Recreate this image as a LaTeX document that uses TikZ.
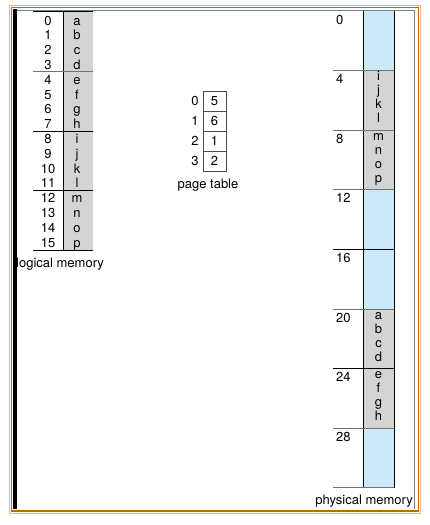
\documentclass[tikz,border=0pt]{standalone}
\usepackage{fontspec}
\setmainfont{TeX Gyre Heros}
\usetikzlibrary{positioning}
\definecolor{frameorange}{RGB}{204,102,0}
\definecolor{framelight}{RGB}{240,180,135}
\definecolor{pageblue}{RGB}{204,233,250}
\definecolor{pagegray}{RGB}{212,212,212}

\begin{document}
\begin{tikzpicture}
[
  x=1pt, y=-1pt,
  every node/.style={inner sep=0pt, font=\fontsize{13}{15}\selectfont, anchor=base},
  framelbl/.style={anchor=base west},
  darksep/.style={draw=black, line width=0.8pt},
  lightsep/.style={draw=black!55, line width=0.8pt}
]
\useasboundingbox (0,0) rectangle (430,525);

% outer frame
\draw[framelight, line width=1.2pt] (9.5,5.5) rectangle (420.5,513.5);
\draw[frameorange, line width=1.5pt] (11.5,7.5) rectangle (418.5,511);
\draw[black!50, line width=0.8pt] (14,10.5) -- (414,10.5) -- (414,509);
\fill[black] (13,9) rectangle (17,509);

% logical memory
\fill[pagegray] (63,11) rectangle (93,250);
\draw[darksep] (63,11) -- (63,250);
\draw[darksep] (33,11) -- (93,11);
\draw[lightsep] (33,71.5) -- (93,71.5);
\draw[darksep] (33,131) -- (93,131);
\draw[darksep] (33,190) -- (93,190);
\draw[darksep] (33,250) -- (93,250);
\foreach \l [count=\i from 0] in {a,...,p} {
  \node (ln\i) at (48,25+14.8*\i) {\i};
  \node (lc\i) at (77,25+14.8*\i) {\l};
}
\node[anchor=base west] (lmem) at (16,267) {logical memory};

% page table
\draw[black!70, line width=0.6pt] (203,91) rectangle (226,171);
\foreach \v [count=\r from 0] in {5,6,1,2} {
  \node (pn\r) at (195,105.5+20*\r) {\r};
  \node (pv\r) at (214.5,105.5+20*\r) {\v};
  \draw[black!70, line width=0.6pt] (203,91+20*\r) -- (226,91+20*\r);
}
\node (ptab) at (208,188) {page table};

% physical memory
\foreach \k/\fc in {0/pageblue,1/pagegray,2/pagegray,3/pageblue,4/pageblue,5/pagegray,6/pagegray,7/pageblue}
  \fill[\fc] (363,11+59.6*\k) rectangle (394,70.6+59.6*\k);
\draw[darksep] (363,11) -- (363,487.8);
\draw[darksep] (394,11) -- (394,487.8);
\foreach \k in {1,2,3,5,7,8}
  \draw[lightsep] (333,11+59.6*\k) -- (394,11+59.6*\k);
\foreach \k in {4,6}
  \draw[darksep] (333,11+59.6*\k) -- (394,11+59.6*\k);
\foreach \k [evaluate=\k as \a using int(4*\k)] in {0,...,7}
  \node[framelbl] (pf\k) at (336,24+59.6*\k) {\a};
\foreach \k/\letters in {1/{i,j,k,l},2/{m,n,o,p},5/{a,b,c,d},6/{e,f,g,h}}
  \foreach \l [count=\j from 0] in \letters
    \node (pl\k-\j) at (378.5,21+59.6*\k+14*\j) {\l};
\node[anchor=base east] (pmem) at (413,504) {physical memory};
\end{tikzpicture}
\end{document}
